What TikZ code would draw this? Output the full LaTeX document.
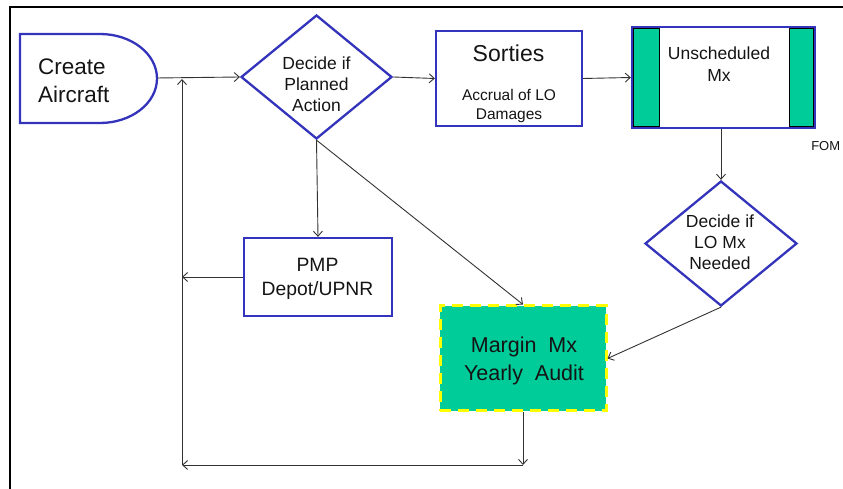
\documentclass[tikz,border=0pt]{standalone}
\usepackage{fontspec}
\setmainfont{Liberation Sans}
\usetikzlibrary{shapes.geometric,arrows.meta}
\definecolor{bblue}{RGB}{51,51,187}
\definecolor{mgreen}{RGB}{0,204,153}
\definecolor{ylw}{RGB}{255,255,0}
\definecolor{txt}{RGB}{20,20,20}
\definecolor{ln}{RGB}{50,50,50}
\tikzset{
  box/.style={draw=bblue,line width=2.3pt,rectangle,inner sep=0pt},
  dia/.style={draw=bblue,line width=2.3pt,diamond,inner sep=0pt},
  lbl/.style={text=txt,inner sep=0pt,align=center},
  arr/.style={draw=ln,line width=0.9pt,-{Straight Barb[length=5pt,width=9pt]}},
  bar/.style={fill=mgreen,draw=black,line width=0.9pt}
}
\begin{document}
\begin{tikzpicture}[x=1pt,y=1pt]
\useasboundingbox (0,0) rectangle (843,489);
% frame
\draw[line width=1.8pt,black] (10,0) -- (10,482) -- (843,482);
% Create Aircraft
\draw[draw=bblue,line width=2.3pt] (20,366) -- (100,366)
  arc[start angle=-90,end angle=90,x radius=57,y radius=44.5] -- (20,455) -- cycle;
\coordinate (createE) at (157,411);
\node[lbl,anchor=west,align=left,font=\fontsize{22.5}{27.5}\selectfont] (ct) at (38,408) {Create\\Aircraft};
% Decide if planned
\node[dia,minimum width=151pt,minimum height=124pt] (d1) at (316.5,412) {};
\node[lbl,font=\fontsize{17.5}{20.8}\selectfont] (d1t) at (316.5,405) {Decide if\\Planned\\Action};
% Sorties
\node[box,minimum width=146pt,minimum height=95pt] (s) at (509,410.5) {};
\node[lbl,font=\fontsize{23}{27}\selectfont] (st) at (508.5,436) {Sorties};
\node[lbl,font=\fontsize{15.5}{18.3}\selectfont] (sa) at (509,383) {Accrual of LO\\Damages};
% Unscheduled Mx
\filldraw[bar] (633.5,362.5) rectangle (659,460.5);
\filldraw[bar] (789.5,362.5) rectangle (813.5,460.5);
\node[box,minimum width=183pt,minimum height=101pt] (u) at (723.5,411.5) {};
\node[lbl,font=\fontsize{17.5}{21.7}\selectfont] (ut) at (719,424.8) {Unscheduled\\Mx};
\node[lbl,font=\fontsize{13}{15}\selectfont] (fom) at (825.7,343) {FOM};
% Decide if LO Mx needed
\node[dia,minimum width=152pt,minimum height=125pt] (d2) at (721,245.5) {};
\node[lbl,font=\fontsize{17.5}{21}\selectfont] (d2t) at (720,246.5) {Decide if\\LO Mx\\Needed};
% PMP
\node[box,minimum width=148pt,minimum height=78pt] (p) at (318,212) {};
\node[lbl,font=\fontsize{19.3}{23.7}\selectfont] (pt) at (317.5,210) {PMP\\Depot/UPNR};
% Margin Mx
\node[rectangle,inner sep=0pt,fill=mgreen,draw=ylw,line width=3pt,dash pattern=on 11pt off 7pt,minimum width=166pt,minimum height=105pt] (m) at (523,130.5) {};
\node[lbl,font=\fontsize{21.5}{27.3}\selectfont] (mt) at (524,128) {Margin~~Mx\\Yearly~~Audit};
% helper coordinates
\coordinate (vb) at (182,24);
\coordinate (vt) at (182,410);
\coordinate (pl) at (182,212);
\coordinate (mb) at (523,24);
% connectors
\draw[arr] (createE) -- (d1.west);
\draw[arr] (d1.east) -- (s.west);
\draw[arr] (s.east) -- (u.west);
\draw[arr] (d1.south) -- (p.north);
\draw[arr] (d1.south) -- (m.north);
\draw[arr] (d2.north |- u.south) -- (d2.north);
\draw[arr] (d2.south) -- (m.east);
\draw[arr] (p.west) -- (pl);
\draw[arr] (m.south) -- (mb);
\draw[arr] (mb) -- (vb);
\draw[arr] (vb) -- (vt);
\end{tikzpicture}
\end{document}
